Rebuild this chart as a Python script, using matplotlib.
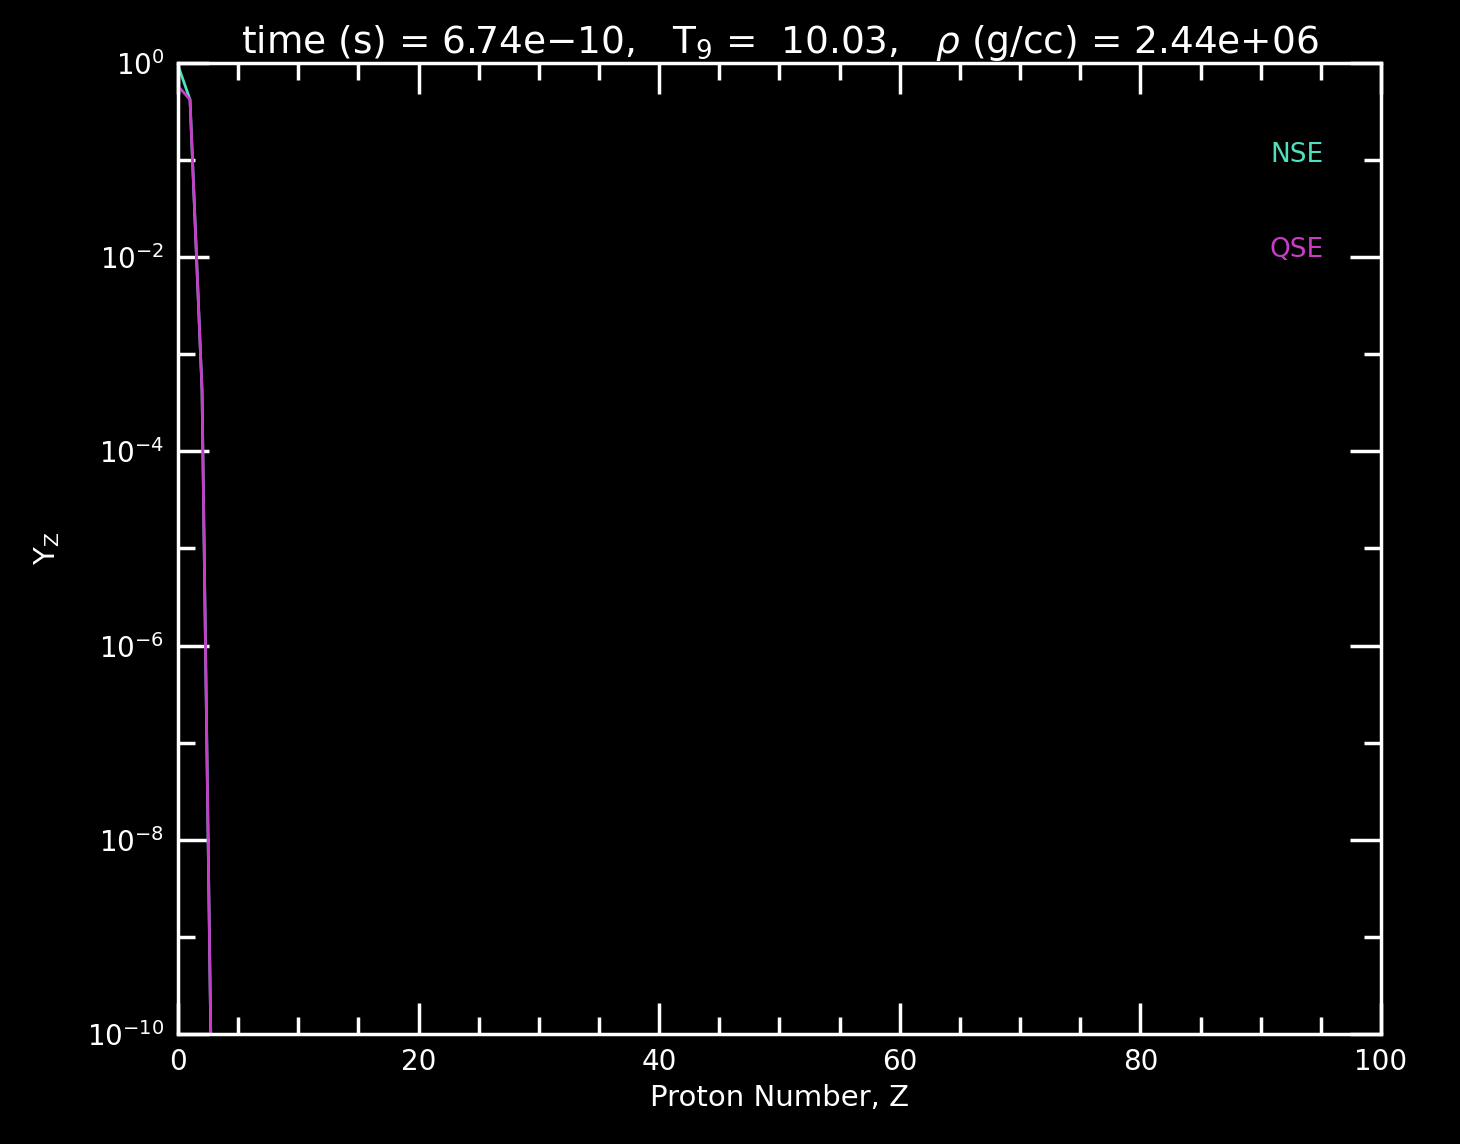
import numpy as np
import matplotlib
matplotlib.use('Agg')
import matplotlib.pyplot as plt
from matplotlib.ticker import FixedLocator, FuncFormatter, NullFormatter

# abundances (Y_Z against proton number Z)
z_vals = [0, 1, 2, 3]
nse_y = [0.95, 0.42, 4.2e-4, 3.0e-13]
qse_y = [0.58, 0.42, 4.2e-4, 3.0e-13]

title_text = (r'time (s) = 6.74e$-$10,   T$_{9}$ =  10.03,   '
              r'$\rho$ (g/cc) = 2.44e+06')

y_major = [1e0, 1e-2, 1e-4, 1e-6, 1e-8, 1e-10]
y_minor = [1e-1, 1e-3, 1e-5, 1e-7, 1e-9]

nse_color = '#4fe0c0'
qse_color = '#c83cc8'

plt.rcParams['font.family'] = ['DejaVu Sans']
plt.rcParams['mathtext.fontset'] = 'dejavusans'

fig = plt.figure(figsize=(14.6, 11.44), dpi=100, facecolor='black')
ax = fig.add_axes([0.1219, 0.0962, 0.824, 0.8487], facecolor='black')

ax.plot(z_vals, nse_y, color=nse_color, lw=2)
ax.plot(z_vals, qse_y, color=qse_color, lw=2)

ax.set_yscale('log')
ax.set_xlim(0, 100)
ax.set_ylim(1e-10, 1e0)

ax.xaxis.set_major_locator(FixedLocator([0, 20, 40, 60, 80, 100]))
ax.xaxis.set_minor_locator(FixedLocator(np.arange(0, 101, 5)))
ax.yaxis.set_major_locator(FixedLocator(y_major))
ax.yaxis.set_minor_locator(FixedLocator(y_minor))
ax.yaxis.set_major_formatter(FuncFormatter(
    lambda v, p: r'$10^{%d}$' % int(round(np.log10(v)))))
ax.yaxis.set_minor_formatter(NullFormatter())

for s in ax.spines.values():
    s.set_color('white')
    s.set_linewidth(2.5)

ax.tick_params(which='both', direction='in', top=True, right=True,
               colors='white', width=2.5, labelsize=20, pad=10)
ax.tick_params(which='major', length=22)
ax.tick_params(which='minor', length=12)

ax.set_xlabel('Proton Number, Z', color='white', fontsize=21, labelpad=6)
ax.set_ylabel(r'Y$_{\rm Z}$', color='white', fontsize=21, labelpad=18)
ax.set_title(title_text, color='white', fontsize=27, pad=6)

ax.text(0.93, 0.905, 'NSE', color=nse_color, fontsize=19,
        transform=ax.transAxes, ha='center', va='center')
ax.text(0.93, 0.807, 'QSE', color=qse_color, fontsize=19,
        transform=ax.transAxes, ha='center', va='center')

fig.savefig('out.png', dpi=100, facecolor='black')
